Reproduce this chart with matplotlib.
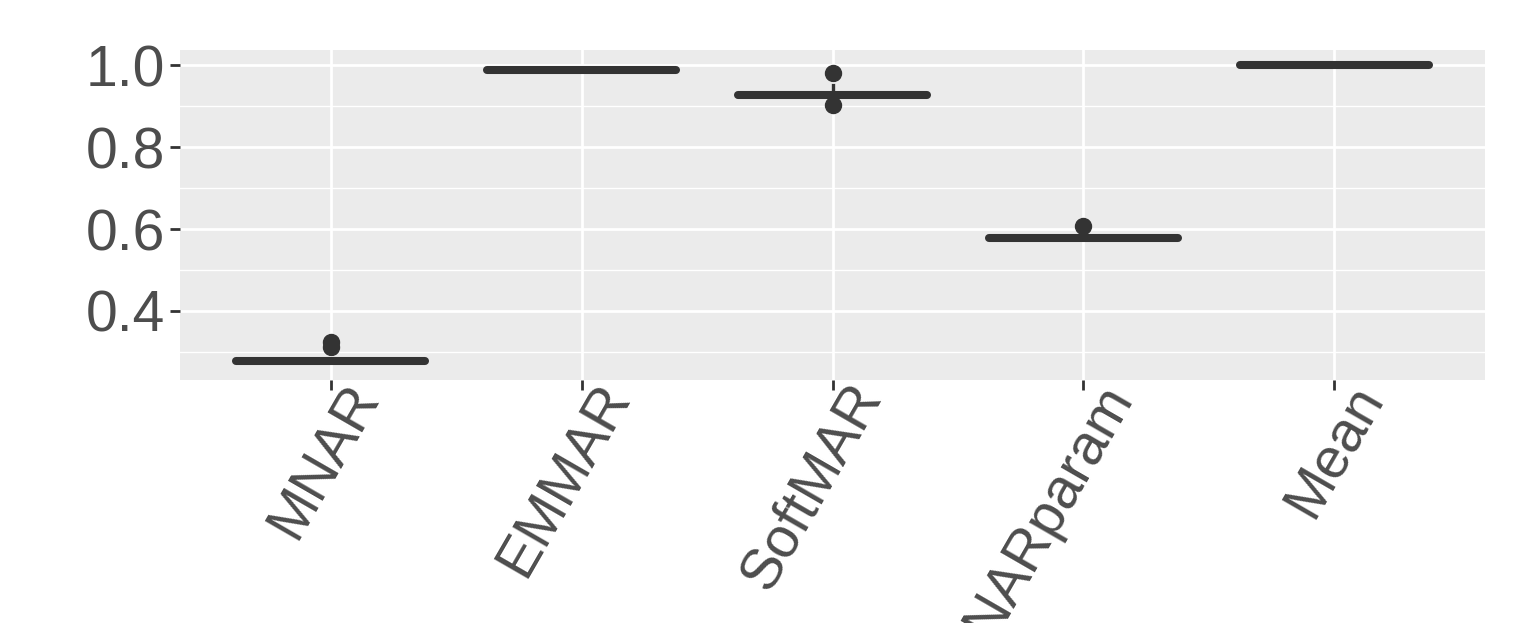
#!/usr/bin/env python3
"""
Boxplot of imputation scores by method (ggplot-like look).
"""

import matplotlib
matplotlib.use('Agg')
import matplotlib.pyplot as plt
from matplotlib.ticker import MultipleLocator
from matplotlib.transforms import ScaledTranslation, blended_transform_factory

# values
methods = ['MNAR', 'EMMAR', 'SoftMAR', 'MNARparam', 'Mean']
medians = [0.279, 0.988, 0.928, 0.579, 1.000]
q1 = [0.278, 0.987, 0.925, 0.578, 0.999]
q3 = [0.280, 0.989, 0.931, 0.580, 1.000]
whisker_lo = [0.278, 0.987, 0.925, 0.578, 0.999]
whisker_hi = [0.280, 0.989, 0.951, 0.580, 1.000]
outliers = [[0.312, 0.324], [], [0.902, 0.980], [0.607], []]

DARK = '#333333'
TEXT = '#4D4D4D'
FONT_SIZE = 41


def build_stats():
    """Turn the summary arrays into what bxp wants."""
    stats = []
    for i, name in enumerate(methods):
        stats.append({
            'label': name,
            'med': medians[i],
            'q1': q1[i],
            'q3': q3[i],
            'whislo': whisker_lo[i],
            'whishi': whisker_hi[i],
            'fliers': outliers[i],
        })
    return stats


def main():
    plt.rcParams['font.family'] = ['Liberation Sans', 'DejaVu Sans']

    fig = plt.figure(figsize=(15.32, 6.23), dpi=100)
    ax = fig.add_axes([180 / 1532, 1 - 380 / 623, 1305 / 1532, 330 / 623])
    ax.set_facecolor('#EBEBEB')

    positions = list(range(1, len(methods) + 1))
    ax.bxp(build_stats(), positions=positions, widths=0.75, showcaps=False,
           boxprops=dict(color=DARK, linewidth=2.4),
           whiskerprops=dict(color=DARK, linewidth=2.4),
           medianprops=dict(color=DARK, linewidth=5.8, solid_capstyle='round'),
           flierprops=dict(marker='o', markersize=11.5, markerfacecolor=DARK,
                           markeredgecolor=DARK, linestyle='none'))

    ax.set_xlim(0.4, 5.6)
    ax.set_ylim(0.2317, 1.0366)
    ax.yaxis.set_major_locator(MultipleLocator(0.2))
    ax.yaxis.set_minor_locator(MultipleLocator(0.1))
    ax.set_yticks([0.4, 0.6, 0.8, 1.0])
    ax.set_yticklabels(['0.4', '0.6', '0.8', '1.0'])

    ax.set_xticks(positions)
    ax.set_xticklabels([])
    # rotated labels placed by hand, end of baseline right of the tick
    trans = blended_transform_factory(ax.transData, ax.transAxes)
    trans = trans + ScaledTranslation(0.49, -0.16, fig.dpi_scale_trans)
    for pos, name in zip(positions, methods):
        ax.text(pos, 0, name, transform=trans, rotation=60,
                rotation_mode='anchor', ha='right', va='baseline',
                fontsize=FONT_SIZE, color=TEXT, clip_on=False)

    ax.grid(True, which='major', color='white', linewidth=2.0)
    ax.grid(True, which='minor', axis='y', color='white', linewidth=1.0)
    ax.set_axisbelow(True)
    for side in ax.spines.values():
        side.set_visible(False)

    ax.tick_params(axis='both', which='major', length=7, width=2, color=DARK,
                   labelsize=FONT_SIZE, labelcolor=TEXT, pad=4)
    ax.tick_params(axis='y', which='minor', length=0)

    fig.savefig('out.png', dpi=100)
    plt.close(fig)


if __name__ == '__main__':
    main()
